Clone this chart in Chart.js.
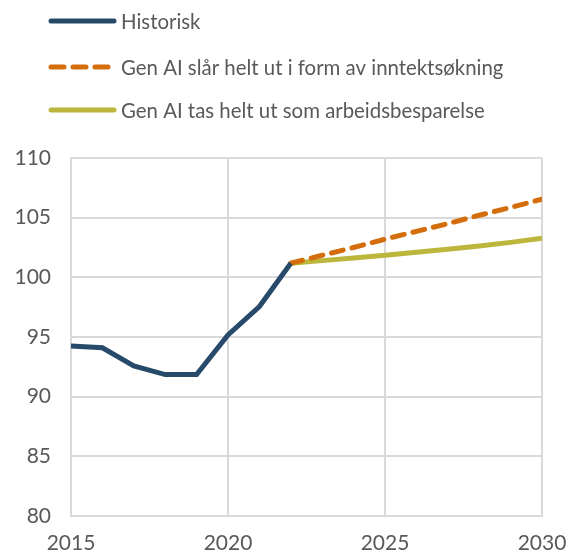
<!DOCTYPE html>
<html>
<head>
<meta charset="utf-8">
<script src="https://cdn.jsdelivr.net/npm/chart.js@4.4.0/dist/chart.umd.min.js"></script>
<style>
  html, body { margin: 0; padding: 0; background: #fff; }
  #wrap { width: 568px; height: 558px; }
</style>
</head>
<body>
<div id="wrap"><canvas id="myChart" width="568" height="558"></canvas></div>
<script>
// data
const histYears = [2015, 2016, 2017, 2018, 2019, 2020, 2021, 2022];
const histValues = [94.25, 94.1, 92.57, 91.85, 91.85, 95.17, 97.55, 101.18];
const scenYears = [2022, 2023, 2024, 2025, 2026, 2027, 2028, 2029, 2030];
const incomeValues = [101.18, 101.85, 102.5, 103.2, 103.85, 104.5, 105.2, 105.85, 106.55];
const laborValues = [101.18, 101.4, 101.62, 101.85, 102.1, 102.35, 102.63, 102.93, 103.27];
const seriesNames = ['Historisk', 'Gen AI slår helt ut i form av inntektsøkning', 'Gen AI tas helt ut som arbeidsbesparelse'];
const xTicks = [2015, 2020, 2025, 2030];

const textColor = '#595959';
const fontFamily = 'Lato, "Open Sans", sans-serif';

function pts(xs, ys) {
    return xs.map((x, i) => ({ x: x, y: ys[i] }));
}

// legend drawn at the top, left aligned, one row per series
const topLegend = {
    id: 'topLegend',
    afterDraw(chart) {
        const c = chart.ctx;
        c.save();
        c.font = '20.4px ' + fontFamily;
        c.fillStyle = textColor;
        c.textBaseline = 'middle';
        const rows = [21, 67, 110];
        chart.data.datasets.forEach((ds, i) => {
            const y = rows[i];
            c.strokeStyle = ds.borderColor;
            c.lineWidth = 5;
            c.lineCap = 'round';
            c.setLineDash(ds.borderDash ? [13, 9] : []);
            c.beginPath();
            c.moveTo(51, y);
            c.lineTo(ds.borderDash ? 108 : 114, y);
            c.stroke();
            c.setLineDash([]);
            c.fillText(ds.label, 121, y + 1);
        });
        c.restore();
    }
};

let ctx = document.getElementById('myChart').getContext('2d');
let myChart = new Chart(ctx, {
    type: 'line',
    data: {
        datasets: [{
                label: seriesNames[0],
                data: pts(histYears, histValues),
                borderColor: '#284a6a',
                borderWidth: 5,
                pointRadius: 0,
                tension: 0
            }, {
                label: seriesNames[1],
                data: pts(scenYears, incomeValues),
                borderColor: '#d46e0c',
                borderWidth: 5,
                borderDash: [12, 9],
                borderCapStyle: 'round',
                pointRadius: 0,
                tension: 0
            }, {
                label: seriesNames[2],
                data: pts(scenYears, laborValues),
                borderColor: '#bcb63c',
                borderWidth: 5,
                pointRadius: 0,
                tension: 0
            }]
    },
    options: {
        responsive: false,
        animation: false,
        layout: {
            padding: { top: 158, right: 26, left: 0, bottom: 0 }
        },
        plugins: {
            legend: { display: false },
            tooltip: { enabled: false }
        },
        scales: {
            x: {
                type: 'linear',
                min: 2015,
                max: 2030,
                afterBuildTicks: (scale) => { scale.ticks = xTicks.map(v => ({ value: v })); },
                afterFit: (scale) => {
                    scale.height = 42;
                    scale.paddingLeft = 0;
                    scale.paddingRight = 0;
                },
                grid: { color: '#d9d9d9', lineWidth: 2, drawTicks: false },
                border: { color: '#d9d9d9', width: 2 },
                ticks: {
                    color: textColor,
                    font: { family: fontFamily, size: 21 },
                    padding: 15,
                    maxRotation: 0,
                    callback: (v) => String(v)
                }
            },
            y: {
                min: 80,
                max: 110,
                afterFit: (scale) => {
                    scale.width = 71;
                    scale.paddingTop = 0;
                    scale.paddingBottom = 0;
                },
                grid: { color: '#d9d9d9', lineWidth: 2, drawTicks: false },
                border: { color: '#d9d9d9', width: 2 },
                ticks: {
                    stepSize: 5,
                    color: textColor,
                    font: { family: fontFamily, size: 21 },
                    padding: 20
                }
            }
        }
    },
    plugins: [topLegend]
});
</script>
</body>
</html>
